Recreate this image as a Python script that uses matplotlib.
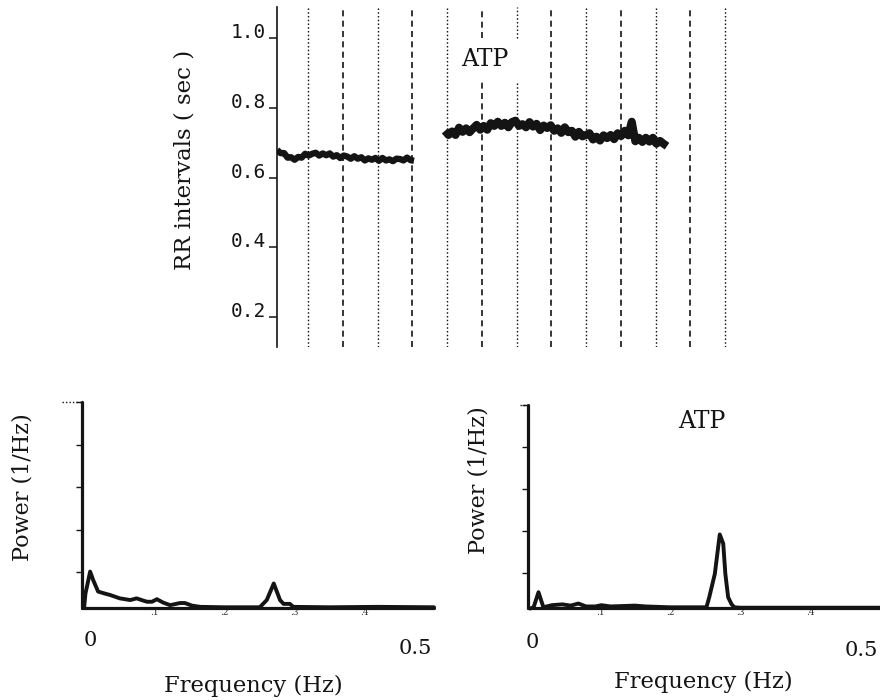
import numpy as np
import matplotlib
matplotlib.use("Agg")
import matplotlib.pyplot as plt

# ---------------- data ----------------
# RR interval series (sec), sampled uniformly in time (grid units)
rr_ctrl_start, rr_ctrl_end = 0.11, 4.05
rr_ctrl = [0.679, 0.670, 0.670, 0.657, 0.658, 0.651, 0.659, 0.657, 0.668, 0.663,
           0.668, 0.671, 0.663, 0.669, 0.664, 0.669, 0.660, 0.664, 0.656, 0.663,
           0.660, 0.654, 0.661, 0.654, 0.658, 0.649, 0.655, 0.651, 0.656, 0.648,
           0.656, 0.649, 0.652, 0.647, 0.654, 0.653, 0.649, 0.657, 0.650, 0.648]
rr_atp_start, rr_atp_end = 4.94, 11.33
rr_atp = [0.734, 0.722, 0.732, 0.722, 0.743, 0.731, 0.741, 0.730, 0.741, 0.751,
          0.737, 0.748, 0.737, 0.756, 0.748, 0.760, 0.748, 0.757, 0.744, 0.759,
          0.763, 0.748, 0.753, 0.744, 0.759, 0.746, 0.754, 0.736, 0.749, 0.742,
          0.750, 0.734, 0.741, 0.728, 0.744, 0.730, 0.734, 0.717, 0.731, 0.718,
          0.722, 0.727, 0.709, 0.717, 0.706, 0.721, 0.713, 0.722, 0.710, 0.727,
          0.719, 0.734, 0.721, 0.760, 0.704, 0.714, 0.702, 0.714, 0.703, 0.714,
          0.697, 0.705, 0.697, 0.690]
rr_yticks = [0.2, 0.4, 0.6, 0.8, 1.0]
rr_yticklabels = ["0.2", "0.4", "0.6", "0.8", "1.0"]
grid_dotted = [1, 3, 5, 7, 9, 11, 13]
grid_dashed = [2, 4, 6, 8, 10, 12]
grid_gapped = [6, 7]          # lines interrupted around the "ATP" label

# Power spectra
freq_ctrl = [0.0, 0.002, 0.004, 0.0086, 0.013, 0.020, 0.028, 0.037, 0.051, 0.066,
             0.075, 0.084, 0.090, 0.097, 0.104, 0.113, 0.123, 0.137, 0.144, 0.154,
             0.166, 0.200, 0.251, 0.261, 0.271, 0.280, 0.285, 0.294, 0.299, 0.350,
             0.420, 0.500]
power_ctrl = [0.16, 0.50, 0.65, 1.01, 0.81, 0.54, 0.50, 0.46, 0.38, 0.34,
              0.38, 0.33, 0.30, 0.30, 0.36, 0.28, 0.22, 0.27, 0.27, 0.21,
              0.18, 0.17, 0.17, 0.34, 0.73, 0.34, 0.25, 0.25, 0.18, 0.17,
              0.18, 0.17]
freq_atp = [0.0, 0.005, 0.012, 0.019, 0.031, 0.046, 0.058, 0.069, 0.080, 0.093,
            0.102, 0.115, 0.150, 0.165, 0.200, 0.252, 0.256, 0.264, 0.271, 0.276,
            0.279, 0.283, 0.288, 0.292, 0.300, 0.500]
power_atp = [0.14, 0.17, 0.53, 0.17, 0.22, 0.24, 0.21, 0.26, 0.19, 0.19,
             0.22, 0.19, 0.21, 0.19, 0.17, 0.17, 0.41, 0.97, 1.91, 1.69,
             0.97, 0.41, 0.24, 0.17, 0.16, 0.16]
psd_yticks = [1, 2, 3, 4, 5]
psd_xticks = [0.1, 0.2, 0.3, 0.4]
psd_xticklabels = [".1", ".2", ".3", ".4"]

INK = "#141414"
SERIF = "DejaVu Serif"
MONO = "DejaVu Sans Mono"

W, H = 880, 700
fig = plt.figure(figsize=(W / 100, H / 100), dpi=100)


def box(l, t, r, b):
    return [l / W, 1 - b / H, (r - l) / W, (b - t) / H]


def fx(x):
    return x / W


def fy(y):
    return 1 - y / H


# ---------------- top panel: RR intervals ----------------
ax = fig.add_axes(box(277, 7, 740, 347))
ax.set_xlim(0.108, 13.43)
ax.set_ylim(0.114, 1.089)
for s in ["top", "right", "bottom"]:
    ax.spines[s].set_visible(False)
ax.spines["left"].set_linewidth(1.2)
ax.spines["left"].set_color(INK)
ax.set_xticks([])
ax.set_yticks(rr_yticks)
ax.set_yticklabels(rr_yticklabels, fontfamily=MONO, fontsize=14, color=INK)
for lbl in ax.get_yticklabels():
    lbl.set_verticalalignment("baseline")
ax.tick_params(axis="y", direction="out", length=6, width=1.1, pad=2, colors=INK)

for g in grid_dotted + grid_dashed:
    style = (0, (1.1, 1.6)) if g in grid_dotted else (0, (3.6, 2.6))
    lw = 1.0 if g in grid_dotted else 1.2
    if g in grid_gapped:
        ax.vlines(g, 1.0, 1.089, colors=INK, linestyles=[style], linewidth=lw)
        ax.vlines(g, 0.114, 0.875, colors=INK, linestyles=[style], linewidth=lw)
    else:
        ax.vlines(g, 0.114, 1.089, colors=INK, linestyles=[style], linewidth=lw)

x_ctrl = np.linspace(rr_ctrl_start, rr_ctrl_end, len(rr_ctrl))
x_atp = np.linspace(rr_atp_start, rr_atp_end, len(rr_atp))
ax.plot(x_ctrl, rr_ctrl, color=INK, lw=4.6, solid_joinstyle="round",
        solid_capstyle="butt")
ax.plot(x_atp, rr_atp, color=INK, lw=5.8, solid_joinstyle="round",
        solid_capstyle="butt")

fig.text(fx(485), fy(60), "ATP", family=SERIF, fontsize=17, color=INK,
         ha="center", va="center")
fig.text(fx(184), fy(160), "RR intervals ( sec )", family=SERIF, fontsize=16.5,
         color=INK, ha="center", va="center", rotation=90)


# ---------------- bottom panels: spectra ----------------
def spectrum(rect, freq, power, dotted_tick_px=20):
    a = fig.add_axes(rect)
    a.set_xlim(-0.003, 0.5)
    a.set_ylim(0.153, 5.0)
    for s in ["top", "right"]:
        a.spines[s].set_visible(False)
    for s in ["left", "bottom"]:
        a.spines[s].set_linewidth(2.3)
        a.spines[s].set_color(INK)
        a.spines[s].set_capstyle("round")
    a.set_yticks(psd_yticks)
    a.set_yticklabels([])
    a.tick_params(axis="y", direction="out", length=4, width=1.0, colors=INK)
    a.set_xticks(psd_xticks)
    a.set_xticklabels(psd_xticklabels, fontsize=6.5, family=SERIF, color="#333333")
    a.tick_params(axis="x", length=0, pad=0)
    a.plot(freq, power, color=INK, lw=2.8, solid_joinstyle="round",
           solid_capstyle="round", clip_on=False)
    # dotted top tick
    frac = dotted_tick_px / (rect[2] * W)
    a.plot([-frac, 0], [5.0, 5.0], transform=a.get_yaxis_transform(),
           color=INK, lw=1.0, ls=(0, (1, 1.5)), clip_on=False)
    return a


axL = spectrum(box(82, 402, 434, 608), freq_ctrl, power_ctrl, dotted_tick_px=20)
axR = spectrum(box(528, 405, 880, 608), freq_atp, power_atp, dotted_tick_px=8)

# axis annotations
fig.text(fx(90), fy(640), "0", family=SERIF, fontsize=15, color=INK, ha="center", va="center")
fig.text(fx(432), fy(648), "0.5", family=SERIF, fontsize=15, color=INK, ha="right", va="center")
fig.text(fx(532), fy(643), "0", family=SERIF, fontsize=15, color=INK, ha="center", va="center")
fig.text(fx(878), fy(650), "0.5", family=SERIF, fontsize=15, color=INK, ha="right", va="center")
fig.text(fx(253), fy(686), "Frequency (Hz)", family=SERIF, fontsize=16.3, color=INK,
         ha="center", va="center")
fig.text(fx(703), fy(682), "Frequency (Hz)", family=SERIF, fontsize=16.3, color=INK,
         ha="center", va="center")
fig.text(fx(22), fy(487), "Power (1/Hz)", family=SERIF, fontsize=16, color=INK,
         ha="center", va="center", rotation=90)
fig.text(fx(478), fy(480), "Power (1/Hz)", family=SERIF, fontsize=16, color=INK,
         ha="center", va="center", rotation=90)
fig.text(fx(702), fy(422), "ATP", family=SERIF, fontsize=17, color=INK,
         ha="center", va="center")

fig.savefig("out.png", dpi=100)
